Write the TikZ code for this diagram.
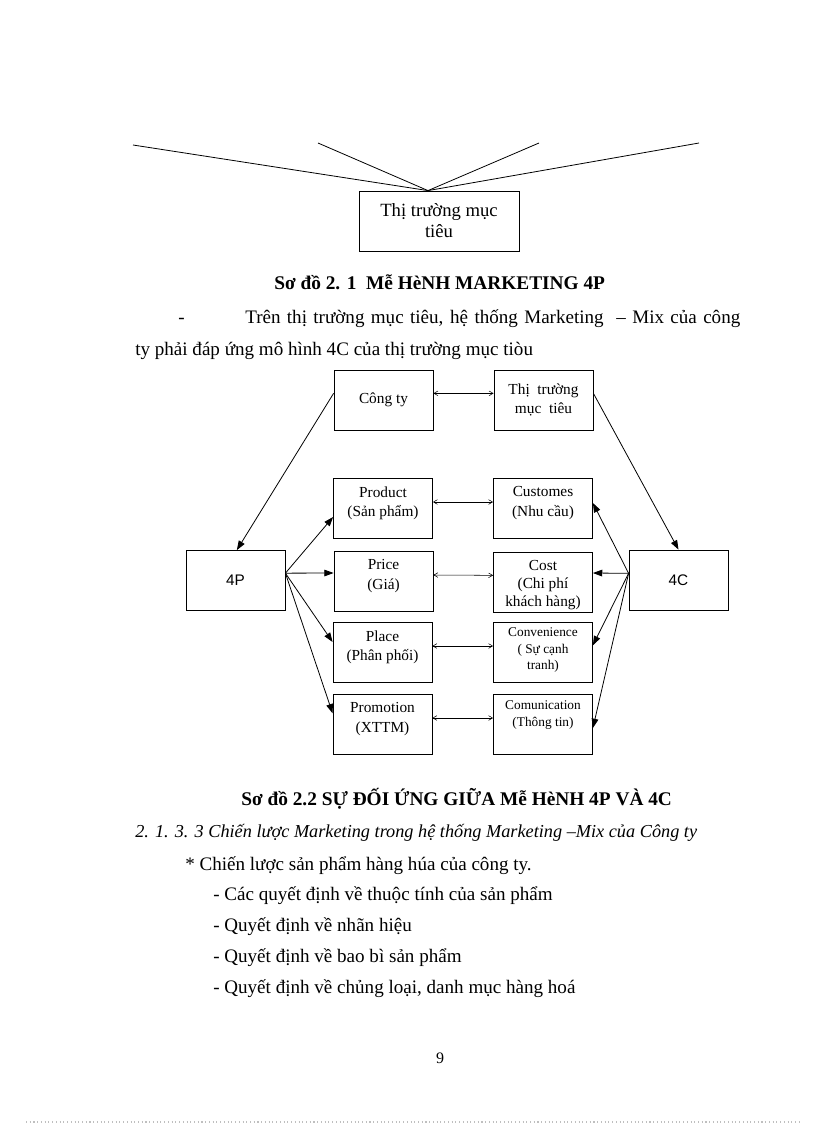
\documentclass[tikz,border=0pt]{standalone}
\usepackage{fontspec}
\setmainfont{Liberation Serif}
\newfontfamily\arialfont{Liberation Sans}
\usetikzlibrary{arrows.meta}

\tikzset{
  box/.style={draw, line width=0.6pt, minimum width=74.25pt, minimum height=45pt,
    inner sep=0pt, align=center, font=\fontsize{11.5}{14.5}\selectfont},
  small/.style={font=\fontsize{10}{12.4}\selectfont},
  lead/.style={-{Triangle[length=7pt,width=5pt]}, line width=0.6pt},
  link/.style={{Straight Barb[length=3pt,width=3.5pt]}-{Straight Barb[length=3pt,width=3.5pt]}, line width=0.4pt},
  body/.style={anchor=base west, inner sep=0pt, font=\fontsize{14.3}{17}\selectfont},
  headline/.style={body, font=\fontsize{14.5}{17}\selectfont\bfseries},
}
\newcommand{\toptext}[2][32pt]{\parbox[c][#1][t]{72pt}{\centering #2}}

\begin{document}
\begin{tikzpicture}[x=0.75pt, y=-0.75pt]
  \useasboundingbox (0,0) rectangle (816,1123);

  % model 4P (end of figure 2.1)
  \node[box, minimum width=120pt, font=\fontsize{14}{15.75}\selectfont] (target) at (439,221) {Thị trường mục\\tiêu};
  \coordinate (ray1) at (133,145);
  \coordinate (ray2) at (318,143);
  \coordinate (ray3) at (539,143);
  \coordinate (ray4) at (699,143);
  \draw[line width=0.6pt] (ray1) -- ([xshift=-8.25pt]target.north);
  \draw[line width=0.6pt] (ray2) -- ([xshift=-8.25pt]target.north);
  \draw[line width=0.6pt] (ray3) -- ([xshift=-8.25pt]target.north);
  \draw[line width=0.6pt] (ray4) -- ([xshift=-8.25pt]target.north);

  \node[headline] (cap1) at (274,289) {Sơ đồ 2. 1\ \ Mễ HèNH MARKETING 4P};
  \node[body] (dash1) at (178,323) {-};
  \node[body] (para1) at (245,323) {\makebox[371.25pt][s]{Trên thị trường mục tiêu, hệ thống Marketing \ – Mix của công}};
  \node[body] (para2) at (135,355) {ty phải đáp ứng mô hình 4C của thị trường mục tiòu};

  % 4P and 4C
  \node[box] (firm) at (383.5,400) {Công ty};
  \node[box] (market) at (543.5,400) {Thị \ trường\\mục \ tiêu};
  \node[box] (product) at (383,508) {\toptext{Product\\(Sản phẩm)}};
  \node[box] (customer) at (543,508) {\toptext{Customes\\(Nhu cầu)}};
  \node[box] (price) at (383.5,581) {\toptext{Price\\(Giá)}};
  \node[box, font=\fontsize{11.5}{13.5}\selectfont] (cost) at (543,582) {\toptext{Cost\\(Chi phí\\khách hàng)}};
  \node[box] (place) at (382.5,652) {\toptext{Place\\(Phân phối)}};
  \node[box, small] (conven) at (543,652) {\toptext[36.5pt]{Convenience\\( Sự cạnh\\tranh)}};
  \node[box] (promo) at (382.5,724) {\toptext{Promotion\\(XTTM)}};
  \node[box, small] (commu) at (543,724) {\toptext[35pt]{Comunication\\(Thông tin)}};
  \node[box, font=\arialfont\fontsize{11.5}{14}\selectfont] (fourp) at (235.5,580.5) {4P};
  \node[box, font=\arialfont\fontsize{11.5}{14}\selectfont] (fourc) at (678.5,580) {4C};

  \draw[link] ([yshift=5pt]firm.east) -- ([yshift=5pt]market.west);
  \draw[link] ([yshift=4.5pt]product.east) -- ([yshift=4.5pt]customer.west);
  \draw[link] ([yshift=4.5pt]price.east) -- ([yshift=5pt]cost.west);
  \draw[link] ([yshift=4.5pt]place.east) -- ([yshift=4.5pt]conven.west);
  \draw[link] ([yshift=4.5pt]promo.east) -- ([yshift=4.5pt]commu.west);

  \draw[lead] ([yshift=5pt]firm.west) -- ([xshift=1pt]fourp.north);
  \draw[lead] ([yshift=5pt]market.east) -- (fourc.north);

  \draw[lead] ([yshift=5.5pt]fourp.east) -- ([yshift=-6.75pt]product.west);
  \draw[lead] ([yshift=5.5pt]fourp.east) -- ([yshift=6pt]price.west);
  \draw[lead] ([yshift=5.5pt]fourp.east) -- ([yshift=7.5pt]place.west);
  \draw[lead] ([yshift=5.5pt]fourp.east) -- ([yshift=8pt]promo.west);

  \draw[lead] ([yshift=5pt]fourc.west) -- ([yshift=3.75pt]customer.east);
  \draw[lead] ([yshift=5pt]fourc.west) -- ([yshift=6.75pt]cost.east);
  \draw[lead] ([yshift=5pt]fourc.west) -- ([yshift=5pt]conven.east);
  \draw[lead] ([yshift=5pt]fourc.west) -- ([yshift=-3pt]commu.east);

  % text below
  \node[headline] (cap2) at (241,805) {Sơ đồ 2.2 SỰ ĐỐI ỨNG GIỮA Mễ HèNH 4P VÀ 4C};
  \node[body, font=\fontsize{13.7}{17}\selectfont\itshape] (sec) at (135,837) {2. 1. 3. 3 Chiến lược Marketing trong hệ thống Marketing –Mix của Công ty};
  \node[body] (item0) at (185,870) {* Chiến lược sản phẩm hàng húa của công ty.};
  \node[body] (item1) at (213,900) {- Các quyết định về thuộc tính của sản phẩm};
  \node[body] (item2) at (213,931) {- Quyết định về nhãn hiệu};
  \node[body] (item3) at (213,962) {- Quyết định về bao bì sản phẩm};
  \node[body] (item4) at (213,993) {- Quyết định về chủng loại, danh mục hàng hoá};
  \node[anchor=base, inner sep=0pt, font=\fontsize{12}{14}\selectfont] (pageno) at (440,1063) {9};
  \draw[gray!50, dotted, line width=0.8pt] (26,1122) -- (800,1122);
\end{tikzpicture}
\end{document}
